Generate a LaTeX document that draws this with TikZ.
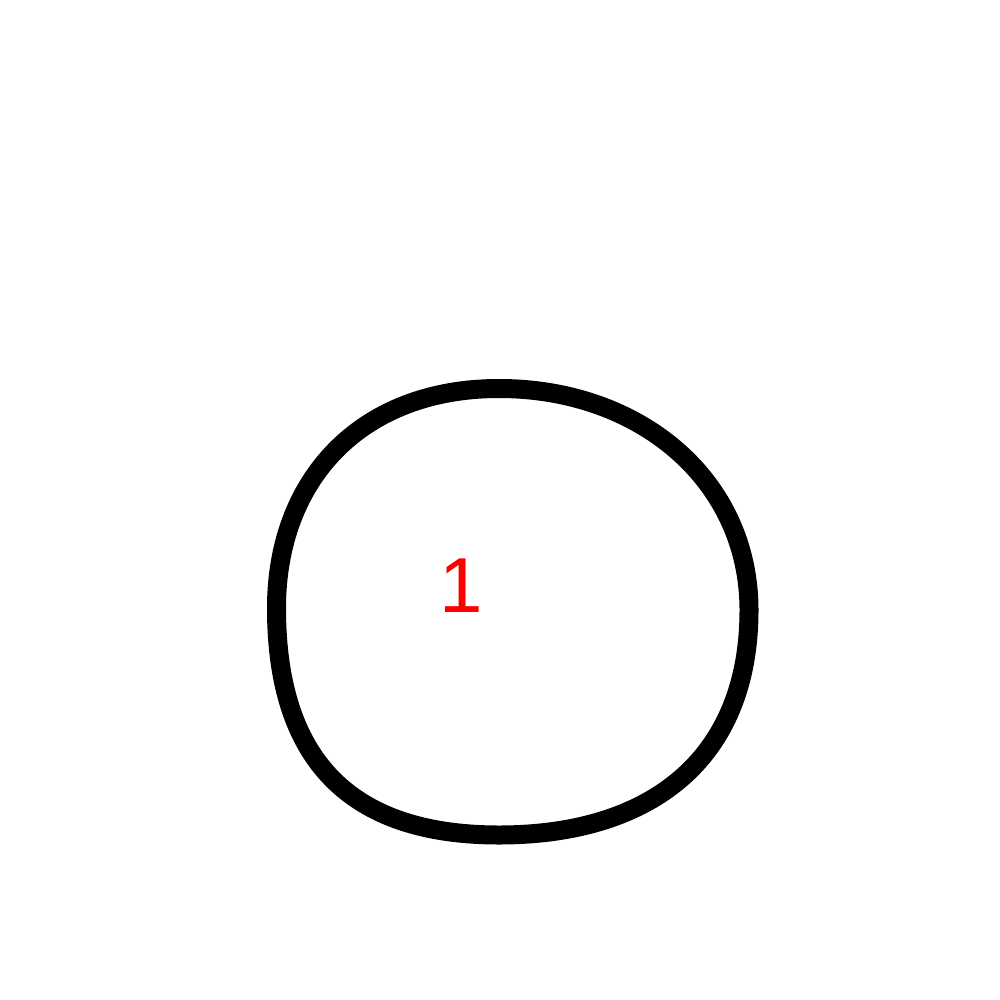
\documentclass[tikz,border=0pt]{standalone}
\usepackage{fontspec}
\setmainfont{Liberation Sans}
\begin{document}
\begin{tikzpicture}[x=1pt,y=-1pt,
  outline/.style={draw=black,line width=19pt},
  numlabel/.style={text=red,font=\fontsize{78}{80}\selectfont,inner sep=0pt,anchor=base}]
\useasboundingbox[fill=white] (0,0) rectangle (1000,1000);
\coordinate (T) at (499,388.5);
\coordinate (R) at (749,610);
\coordinate (B) at (499,835);
\coordinate (L) at (276.5,608);
\draw[outline] (T) .. controls (640,388.5) and (749,480) .. (R)
  .. controls (749,760) and (650,835) .. (B)
  .. controls (350,835) and (276.5,760) .. (L)
  .. controls (276.5,480) and (360,388.5) .. (T) -- cycle;
\node[numlabel] (n1) at (461,612) {1};
\end{tikzpicture}
\end{document}
